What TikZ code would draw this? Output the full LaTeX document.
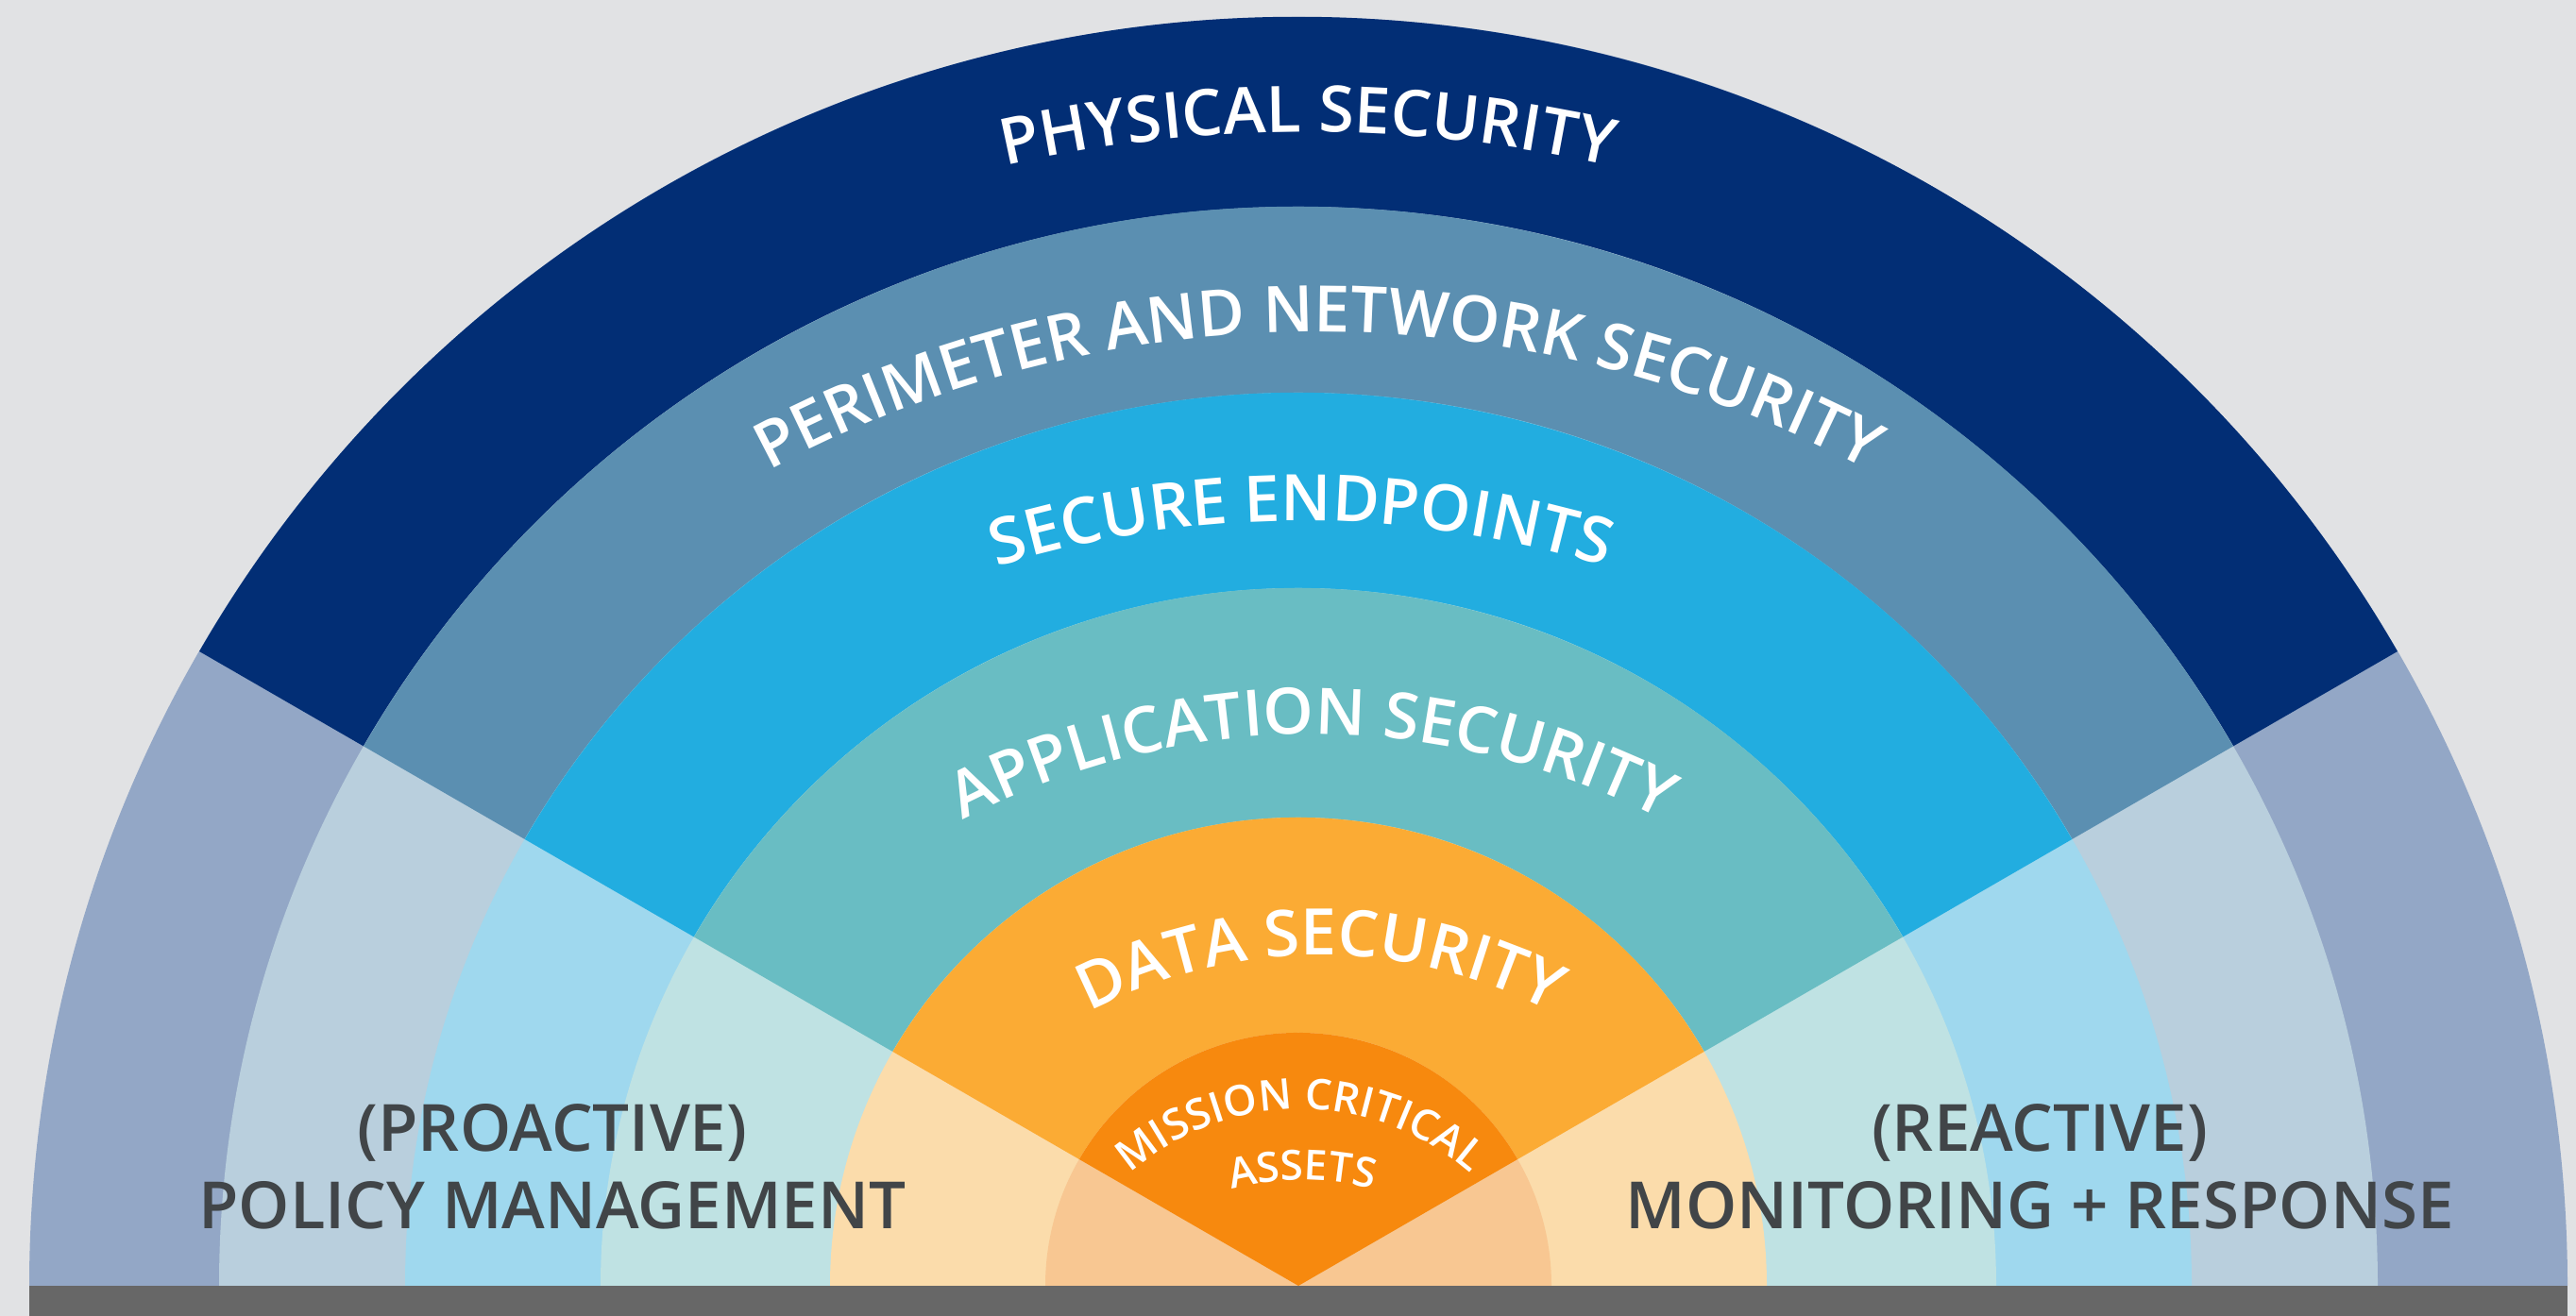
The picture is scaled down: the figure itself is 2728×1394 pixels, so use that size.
\documentclass[tikz,border=0pt]{standalone}
\usepackage{fontspec}
\usetikzlibrary{decorations.text}
\IfFontExistsTF{Open Sans Semibold}{\newfontfamily\lblfont{Open Sans Semibold}}{\newfontfamily\lblfont{Open Sans}[FakeBold=0.5]}
\definecolor{bgcol}{HTML}{E1E2E4}
\definecolor{barcol}{HTML}{676767}
\definecolor{labelgray}{HTML}{414548}
\definecolor{physD}{HTML}{022E75}
\definecolor{physL}{HTML}{93A7C6}
\definecolor{perD}{HTML}{5B8FB1}
\definecolor{perL}{HTML}{B9CFDD}
\definecolor{endD}{HTML}{22ADE0}
\definecolor{endL}{HTML}{9FD8EE}
\definecolor{appD}{HTML}{69BDC3}
\definecolor{appL}{HTML}{BFE2E3}
\definecolor{datD}{HTML}{FBAB34}
\definecolor{datL}{HTML}{FBDCAB}
\definecolor{misD}{HTML}{F7890E}
\definecolor{misL}{HTML}{F8C792}
\newcommand\ringfont{\lblfont\fontsize{68}{72}\selectfont\color{white}}
\newcommand\smallringfont{\lblfont\fontsize{45}{48}\selectfont\color{white}}
\newcommand\assetfont{\lblfont\fontsize{44}{48}\selectfont\color{white}}
\begin{document}
\begin{tikzpicture}[x=1pt,y=1pt,
  ringtext/.style={decorate, decoration={text along path, text align=center, text={#1}}},
  sidelabel/.style={anchor=base, inner sep=0pt, text=labelgray, font=\lblfont\fontsize{69}{82}\selectfont}]
\useasboundingbox (0,0) rectangle (2728,1394);
\fill[bgcol] (0,0) rectangle (2728,1394);
\coordinate (C) at (1375,32);
% rings: light half disk + dark central sector
\foreach \r/\cl/\cd in {1344/physL/physD,1143/perL/perD,946/endL/endD,739/appL/appD,496/datL/datD,268/misL/misD}{
  \fill[\cl] (C) ++(0:\r pt) arc[start angle=0,end angle=180,radius=\r pt] -- cycle;
  \fill[\cd] (C) -- ++(30:\r pt) arc[start angle=30,end angle=150,radius=\r pt] -- cycle;
}
% bottom bar
\fill[barcol] (31,0) rectangle (2719,32);
% curved labels
\path[ringtext={|\ringfont|PHYSICAL SECURITY}] (1385,-186) ++(160:1440pt) arc[start angle=160,end angle=20,radius=1440pt];
\path[ringtext={|\ringfont|PERIMETER AND NETWORK SECURITY}] (1396,-188) ++(160:1230pt) arc[start angle=160,end angle=20,radius=1230pt];
\path[ringtext={|\ringfont|SECURE ENDPOINTS}] (1378,-258) ++(160:1100pt) arc[start angle=160,end angle=20,radius=1100pt];
\path[ringtext={|\ringfont|APPLICATION SECURITY}] (1390,-184) ++(160:800pt) arc[start angle=160,end angle=20,radius=800pt];
\path[ringtext={|\ringfont|DATA SECURITY}] (1398,-148) ++(160:530pt) arc[start angle=160,end angle=20,radius=530pt];
\path[ringtext={|\smallringfont|MISSION CRITICAL}] (1377,-53) ++(170:272pt) arc[start angle=170,end angle=10,radius=272pt];
\path[ringtext={|\assetfont|ASSETS}] (1379,-156) ++(150:300pt) arc[start angle=150,end angle=30,radius=300pt];
% side labels
\node[sidelabel] (proA) at (585,174) {(PROACTIVE)};
\node[sidelabel] (proB) at (585,92) {POLICY MANAGEMENT};
\node[sidelabel] (reA) at (2160,174) {(REACTIVE)};
\node[sidelabel] (reB) at (2160,92) {MONITORING + RESPONSE};
\end{tikzpicture}
\end{document}
